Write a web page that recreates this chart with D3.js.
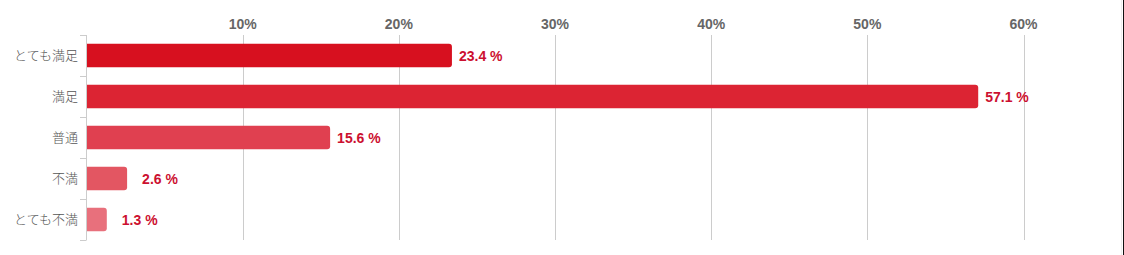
<!DOCTYPE html>
<html><head><meta charset="utf-8">
<script src="https://cdn.jsdelivr.net/npm/d3@7"></script>
<style>
html,body{margin:0;padding:0;background:#fff;}
svg{display:block;}
</style></head>
<body>
<script>
const categories = ["とても満足","満足","普通","不満","とても不満"];
const values = [23.4, 57.1, 15.6, 2.6, 1.3];
const colors = ["#d7101f","#dc2433","#e04050","#e35662","#e8707c"];
const tickValues = [10,20,30,40,50,60];

const W = 1124, H = 255;
const svg = d3.select("body").append("svg").attr("width", W).attr("height", H);

const x = d3.scaleLinear().domain([0, 60]).range([86.5, 1023.5]);
const y = d3.scaleBand().domain(categories).range([35, 240]).paddingInner(0.43).paddingOuter(0.215);

// grid lines
svg.append("g").selectAll("line").data(tickValues).join("line")
  .attr("x1", d => Math.round(x(d)) + 0.5).attr("x2", d => Math.round(x(d)) + 0.5)
  .attr("y1", 35).attr("y2", 240)
  .attr("stroke", "#cccccc").attr("stroke-width", 1);

// top tick labels
svg.append("g").selectAll("text").data(tickValues).join("text")
  .attr("x", d => x(d)).attr("y", 29)
  .attr("text-anchor", "middle")
  .attr("font-family", "'Liberation Sans', Arial, sans-serif")
  .attr("font-weight", "bold").attr("font-size", 14)
  .attr("fill", "#666666")
  .text(d => d + "%");

// left axis line
svg.append("line").attr("x1", 86.5).attr("x2", 86.5).attr("y1", 35).attr("y2", 240)
  .attr("stroke", "#cccccc");
// category boundary ticks
svg.append("g").selectAll("line").data(d3.range(categories.length + 1)).join("line")
  .attr("x1", 80).attr("x2", 86.5)
  .attr("y1", i => Math.round(35 + i * y.step()) + 0.5)
  .attr("y2", i => Math.round(35 + i * y.step()) + 0.5)
  .attr("stroke", "#cccccc");

// category labels
svg.append("g").selectAll("text").data(categories).join("text")
  .attr("x", 78).attr("y", c => y(c) + y.bandwidth()/2 + 4.5)
  .attr("text-anchor", "end")
  .attr("font-family", "'Noto Sans CJK JP', sans-serif")
  .attr("font-size", 13).attr("font-weight", 300)
  .attr("fill", "#555555")
  .text(c => c);

// bars with rounded right corners
function barPath(x0, y0, w, h, r) {
  r = Math.min(r, w, h/2);
  return `M${x0},${y0}H${x0+w-r}Q${x0+w},${y0} ${x0+w},${y0+r}V${y0+h-r}Q${x0+w},${y0+h} ${x0+w-r},${y0+h}H${x0}Z`;
}
const data = categories.map((c,i) => ({c, v: values[i], col: colors[i]}));
svg.append("g").selectAll("path").data(data).join("path")
  .attr("d", d => barPath(x(0)+0.5, y(d.c), x(d.v) - x(0) - 0.5, y.bandwidth(), 3))
  .attr("fill", d => d.col);

// value labels
svg.append("g").selectAll("text").data(data).join("text")
  .attr("x", d => x(d.v) + (d.v < 5 ? 15 : 7))
  .attr("y", d => y(d.c) + y.bandwidth()/2 + 5)
  .attr("font-family", "'Liberation Sans', Arial, sans-serif")
  .attr("font-weight", "bold").attr("font-size", 14)
  .attr("fill", "#cc1030")
  .text(d => d.v.toFixed(1) + " %");

// right border
svg.append("line").attr("x1", 1123.5).attr("x2", 1123.5).attr("y1", 0).attr("y2", H)
  .attr("stroke", "#111").attr("stroke-width", 1);
svg.append("line").attr("x1", 1121.5).attr("x2", 1121.5).attr("y1", 0).attr("y2", H)
  .attr("stroke", "#eeeeee").attr("stroke-width", 1);
</script>
</body></html>
